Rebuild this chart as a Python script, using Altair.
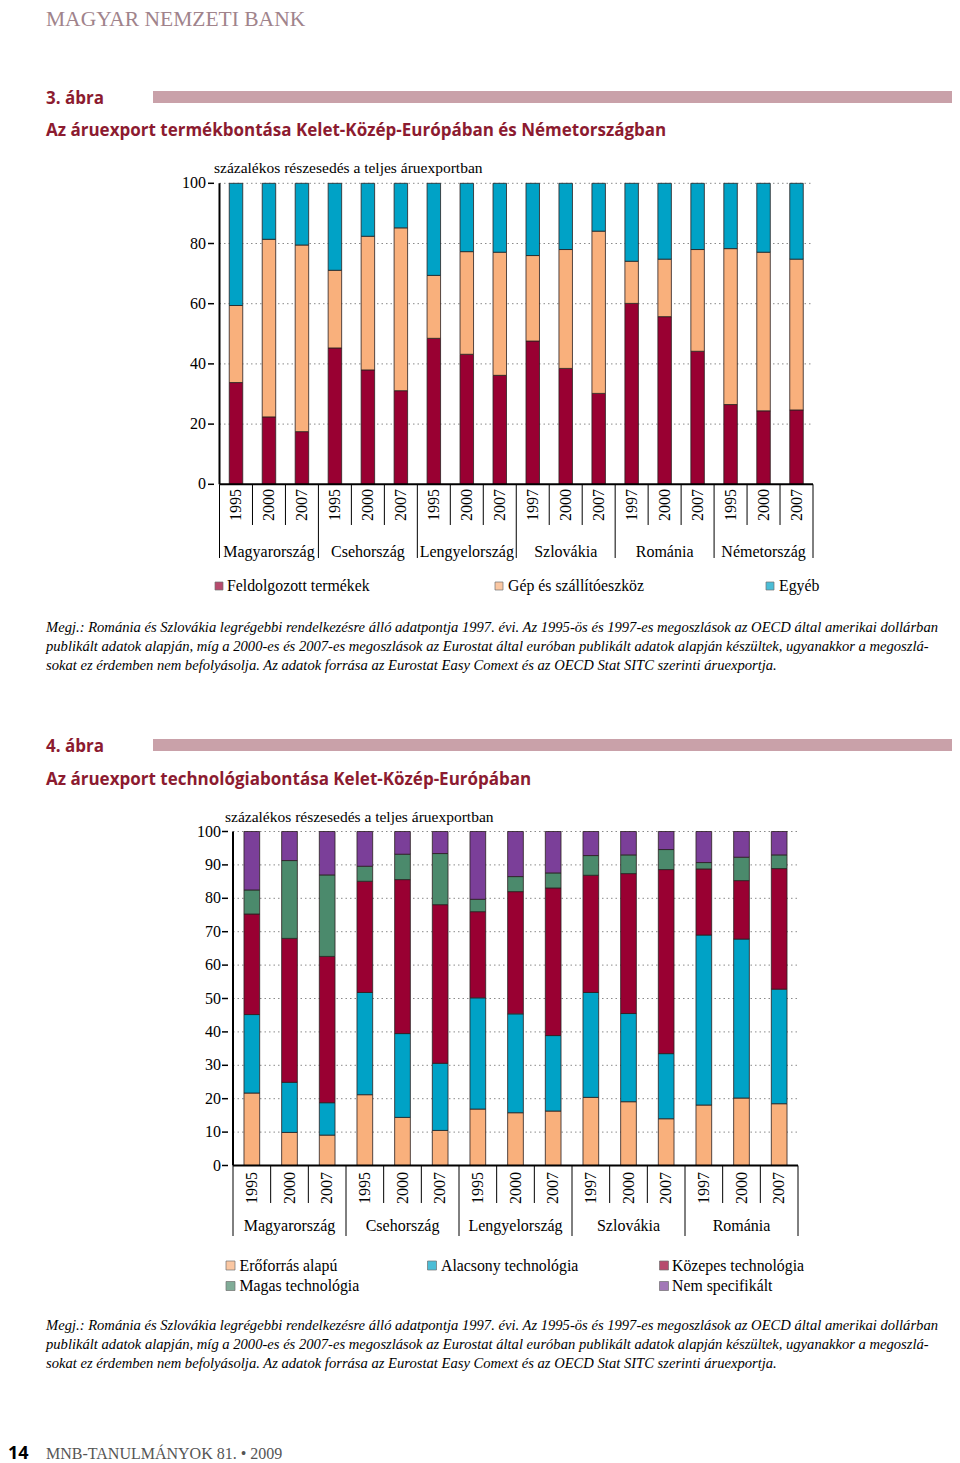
import altair as alt
import pandas as pd

# ---------------- Figure 3 data ----------------
years1 = ["1995", "2000", "2007", "1995", "2000", "2007", "1995", "2000", "2007",
          "1997", "2000", "2007", "1997", "2000", "2007", "1995", "2000", "2007"]
countries1 = ["Magyarország", "Csehország", "Lengyelország", "Szlovákia", "Románia", "Németország"]
series1 = ["Feldolgozott termékek", "Gép és szállítóeszköz", "Egyéb"]
feldolgozott = [33.8, 22.4, 17.5, 45.3, 38.0, 31.1, 48.5, 43.2, 36.2, 47.6, 38.5, 30.2, 60.1, 55.7, 44.2, 26.5, 24.4, 24.7]
gep = [25.6, 59.0, 62.0, 25.8, 44.4, 54.1, 20.9, 34.1, 40.9, 28.4, 39.5, 53.9, 14.0, 19.1, 33.8, 51.8, 52.7, 50.1]
egyeb = [40.6, 18.6, 20.5, 28.9, 17.6, 14.8, 30.6, 22.7, 22.9, 24.0, 22.0, 15.9, 25.9, 25.2, 22.0, 21.7, 22.9, 25.2]
ticks1 = [0, 20, 40, 60, 80, 100]

# ---------------- Figure 4 data ----------------
years2 = ["1995", "2000", "2007", "1995", "2000", "2007", "1995", "2000", "2007",
          "1997", "2000", "2007", "1997", "2000", "2007"]
countries2 = ["Magyarország", "Csehország", "Lengyelország", "Szlovákia", "Románia"]
series2 = ["Erőforrás alapú", "Alacsony technológia", "Közepes technológia", "Magas technológia", "Nem specifikált"]
eroforras = [21.7, 9.9, 9.1, 21.2, 14.4, 10.5, 16.9, 15.8, 16.3, 20.4, 19.1, 14.0, 18.1, 20.2, 18.5]
alacsony = [23.5, 15.0, 9.7, 30.6, 25.1, 20.1, 33.3, 29.6, 22.6, 31.4, 26.4, 19.5, 50.9, 47.6, 34.3]
kozepes = [30.1, 43.1, 43.8, 33.3, 46.1, 47.5, 25.8, 36.6, 44.2, 35.1, 41.9, 55.1, 19.8, 17.5, 36.1]
magas = [7.2, 23.3, 24.4, 4.5, 7.6, 15.3, 3.7, 4.5, 4.5, 5.9, 5.6, 6.0, 1.9, 7.0, 4.1]
nem_spec = [17.5, 8.7, 13.0, 10.4, 6.8, 6.6, 20.3, 13.5, 12.4, 7.2, 7.0, 5.4, 9.3, 7.7, 7.0]
ticks2 = [0, 10, 20, 30, 40, 50, 60, 70, 80, 90, 100]

# ---------------- text ----------------
ylab = "százalékos részesedés a teljes áruexportban"
title3 = "Az áruexport termékbontása Kelet-Közép-Európában és Németországban"
title4 = "Az áruexport technológiabontása Kelet-Közép-Európában"
note_lines = [
    "Megj.: Románia és Szlovákia legrégebbi rendelkezésre álló adatpontja 1997. évi. Az 1995-ös és 1997-es megoszlások az OECD által amerikai dollárban",
    "publikált adatok alapján, míg a 2000-es és 2007-es megoszlások az Eurostat által euróban publikált adatok alapján készültek, ugyanakkor a megoszlá-",
    "sokat ez érdemben nem befolyásolja. Az adatok forrása az Eurostat Easy Comext és az OECD Stat SITC szerinti áruexportja.",
]

RED = "#990032"
ORANGE = "#f9b07c"
BLUE = "#00a2c6"
GREEN = "#4b8a6c"
PURPLE = "#7b3f99"
colors1 = [RED, ORANGE, BLUE]
colors2 = [ORANGE, BLUE, RED, GREEN, PURPLE]

SERIF = "Liberation Serif"
SANS = "Open Sans"
DARKRED = "#8c1b30"

ONE = pd.DataFrame({"a": [0]})


def txt(text, x, y, size=16, font=SERIF, weight="normal", style="normal",
        color="black", align="left", baseline="middle"):
    return alt.Chart(ONE).mark_text(
        font=font, fontSize=size, fontWeight=weight, fontStyle=style,
        color=color, align=align, baseline=baseline
    ).encode(x=alt.value(x), y=alt.value(y), text=alt.value(text))


def panel(years, countries, snames, svalues, ticks, colors, g):
    n = len(years)
    per = n // len(countries)
    rows = []
    for i in range(n):
        for k, (s, vals) in enumerate(zip(snames, svalues)):
            rows.append({"idx": i, "year": years[i], "country": countries[i // per],
                         "series": s, "ord": k, "value": vals[i]})
    df = pd.DataFrame(rows)
    ydf = pd.DataFrame({"idx": list(range(n)), "year": years})
    cdf = pd.DataFrame({"c": [j * per + (per - 1) / 2 for j in range(len(countries))],
                        "country": countries})
    short = pd.DataFrame({"b": [j * per + m + 0.5 for j in range(len(countries)) for m in range(per - 1)]})
    long_ = pd.DataFrame({"b": [-0.5] + [j * per + per - 0.5 for j in range(len(countries))]})
    tdf = pd.DataFrame({"t": ticks})
    gdf = pd.DataFrame({"t": [t for t in ticks if t > 0]})

    lo, hi = -0.5, n - 0.5
    xs = alt.Scale(domain=[lo, hi], range=g["xr"], nice=False, zero=False)
    ys = alt.Scale(domain=[0, 100], range=g["yr"], nice=False, zero=False)

    grid = alt.Chart(gdf).mark_rule(color="#8a8a8a", strokeDash=[1.5, 3], strokeWidth=1).encode(
        y=alt.Y("t:Q", scale=ys, axis=None),
        x=alt.XDatum(lo, scale=xs, axis=None), x2=alt.X2Datum(hi))
    bars = alt.Chart(df).mark_bar(size=g["bar"], orient="vertical", stroke="#2a1f1f", strokeWidth=0.8).encode(
        x=alt.X("idx:Q", scale=xs, axis=None),
        y=alt.Y("value:Q", stack="zero", scale=ys, axis=None),
        color=alt.Color("series:N", scale=alt.Scale(domain=snames, range=colors), legend=None),
        order=alt.Order("ord:Q", sort="ascending"))
    sep_s = alt.Chart(short).mark_rule(color="black", strokeWidth=1).encode(
        x=alt.X("b:Q", scale=xs, axis=None), y=alt.YDatum(0, scale=ys, axis=None), y2=alt.value(g["sep_short"]))
    sep_l = alt.Chart(long_).mark_rule(color="black", strokeWidth=1).encode(
        x=alt.X("b:Q", scale=xs, axis=None), y=alt.YDatum(0, scale=ys, axis=None), y2=alt.value(g["sep_long"]))
    yaxis = alt.Chart(ONE).mark_rule(color="black", strokeWidth=2).encode(
        x=alt.XDatum(lo, scale=xs, axis=None), y=alt.YDatum(0, scale=ys, axis=None), y2=alt.Y2Datum(100))
    xaxis = alt.Chart(ONE).mark_rule(color="black", strokeWidth=2).encode(
        y=alt.YDatum(0, scale=ys, axis=None), x=alt.XDatum(lo, scale=xs, axis=None), x2=alt.X2Datum(hi))
    tmarks = alt.Chart(tdf).mark_rule(color="black", strokeWidth=1.5).encode(
        y=alt.Y("t:Q", scale=ys, axis=None), x=alt.value(g["tick"][0]), x2=alt.value(g["tick"][1]))
    tlabels = alt.Chart(tdf).mark_text(font=SERIF, fontSize=16, align="right", baseline="middle").encode(
        y=alt.Y("t:Q", scale=ys, axis=None), x=alt.value(g["ylab_x"]), text="t:Q")
    ylabels = alt.Chart(ydf).mark_text(font=SERIF, fontSize=16, angle=270, align="right", baseline="middle").encode(
        x=alt.X("idx:Q", scale=xs, axis=None), y=alt.value(g["year_y"]), text="year:N")
    clabels = alt.Chart(cdf).mark_text(font=SERIF, fontSize=16, align="center", baseline="middle").encode(
        x=alt.X("c:Q", scale=xs, axis=None), y=alt.value(g["country_y"]), text="country:N")
    return alt.layer(grid, bars, sep_s, sep_l, yaxis, xaxis, tmarks, tlabels, ylabels, clabels)


g1 = dict(xr=[206.5, 810], yr=[476.3, 175.3], bar=13.5, ylab_x=198, tick=[200, 206],
          year_y=481, sep_short=517, sep_long=550, country_y=544)
g2 = dict(xr=[220, 795], yr=[1157.5, 823.5], bar=15.7, ylab_x=213, tick=[214, 220],
          year_y=1164, sep_short=1195, sep_long=1228, country_y=1218)

p1 = panel(years1, countries1, series1, [feldolgozott, gep, egyeb], ticks1, colors1, g1)
p2 = panel(years2, countries2, series2, [eroforras, alacsony, kozepes, magas, nem_spec], ticks2, colors2, g2)


def legend_item(label, col, sx, tx, y, size):
    sq = alt.Chart(ONE).mark_square(size=size, filled=True, stroke="#333333", strokeWidth=0.7).encode(
        x=alt.value(sx), y=alt.value(y), fill=alt.value(col))
    return [sq, txt(label, tx, y, size=15.8)]


def rect(x, x2, y, y2, col):
    return alt.Chart(ONE).mark_rect(color=col).encode(
        x=alt.value(x), x2=alt.value(x2), y=alt.value(y), y2=alt.value(y2))


layers = []
# header
layers.append(txt("MAGYAR NEMZETI BANK", 38, 18, size=21.5, color="#a0838b", baseline="alphabetic"))
layers.append(txt("3. ábra", 38, 96, size=17, font=SANS, weight="bold", color=DARKRED, baseline="alphabetic"))
layers.append(rect(145, 944, 83, 95, "#c9a1a9"))
layers.append(txt(title3, 38, 128, size=17, font=SANS, weight="bold", color=DARKRED, baseline="alphabetic"))
layers.append(txt(ylab, 206, 160, size=15.5))
layers.append(p1)
# legend 1
layers += legend_item(series1[0], colors1[0], 211, 219, 578, 64)
layers += legend_item(series1[1], colors1[1], 491, 500, 578, 64)
layers += legend_item(series1[2], colors1[2], 762, 771, 578, 64)
# notes 1
for j, line in enumerate(note_lines):
    layers.append(txt(line, 38, 620 + 19 * j, size=14.6, style="italic"))

# figure 4 header
layers.append(txt("4. ábra", 38, 744, size=17, font=SANS, weight="bold", color=DARKRED, baseline="alphabetic"))
layers.append(rect(145, 944, 731, 743, "#c9a1a9"))
layers.append(txt(title4, 38, 777, size=17, font=SANS, weight="bold", color=DARKRED, baseline="alphabetic"))
layers.append(txt(ylab, 217, 809, size=15.5))
layers.append(p2)
# legend 2
layers += legend_item(series2[0], colors2[0], 222.5, 231.5, 1257.5, 81)
layers += legend_item(series2[1], colors2[1], 424, 433, 1257.5, 81)
layers += legend_item(series2[2], colors2[2], 656, 664, 1257.5, 81)
layers += legend_item(series2[3], colors2[3], 222.5, 231.5, 1278, 81)
layers += legend_item(series2[4], colors2[4], 656, 664, 1278, 81)
for j, line in enumerate(note_lines):
    layers.append(txt(line, 38, 1318 + 19 * j, size=14.6, style="italic"))

# footer
layers.append(txt("14", 0, 1451, size=18, font=SANS, weight="bold", baseline="alphabetic"))
layers.append(txt("MNB-TANULMÁNYOK 81. • 2009", 38, 1451, size=16, color="#555555", baseline="alphabetic"))

chart = alt.layer(*layers).resolve_scale(
    x="independent", y="independent", color="independent"
).properties(
    width=944, height=1455, padding=0, autosize=alt.AutoSizeParams(type="none")
).configure_view(stroke=None)

chart.save("out.html", embed_options={"renderer": "svg", "actions": False})
